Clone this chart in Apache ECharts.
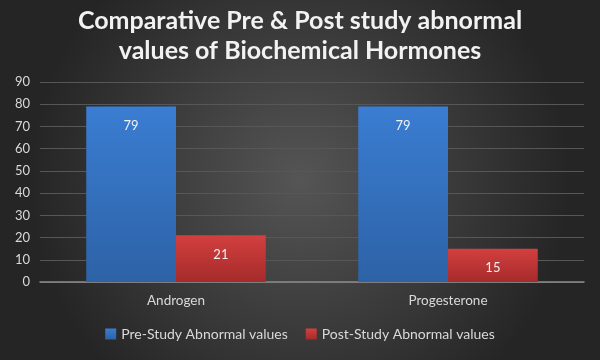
<!DOCTYPE html>
<html><head><meta charset="utf-8">
<script src="https://cdn.jsdelivr.net/npm/echarts@6/dist/echarts.min.js"></script>
<style>html,body{margin:0;padding:0;}#c{width:600px;height:360px;}</style>
</head><body><div id="c"></div>
<script>
const categories = ['Androgen', 'Progesterone'];
const preStudy = [79, 79];
const postStudy = [21, 15];
const seriesNames = ['Pre-Study Abnormal values', 'Post-Study Abnormal values'];
const titleText = 'Comparative Pre & Post study abnormal\nvalues of Biochemical Hormones';

const chart = echarts.init(document.getElementById('c'));
const font = 'Lato, "Open Sans", sans-serif';
chart.setOption({
  backgroundColor: new echarts.graphic.RadialGradient(0.5, 0.5, 0.75, [
    {offset: 0, color: '#555555'},
    {offset: 1, color: '#252525'}
  ]),
  title: {
    text: titleText, left: 'center', top: 1,
    textStyle: {color: '#f2f2f2', fontSize: 25, fontWeight: 'bold', fontFamily: font, lineHeight: 30}
  },
  legend: {
    bottom: 14, left: 'center', itemWidth: 11, itemHeight: 11, itemGap: 18,
    icon: 'rect',
    textStyle: {color: '#d9d9d9', fontSize: 14, fontFamily: font},
    data: seriesNames
  },
  grid: {left: 40, right: 16, top: 82, bottom: 78},
  xAxis: {
    type: 'category', data: categories,
    axisLine: {lineStyle: {color: '#8c8c8c', width: 1.5}},
    axisTick: {show: false},
    axisLabel: {color: '#d9d9d9', fontSize: 13.5, fontFamily: font, margin: 12}
  },
  yAxis: {
    type: 'value', min: 0, max: 90, interval: 10,
    axisLine: {show: false}, axisTick: {show: false},
    axisLabel: {color: '#d9d9d9', fontSize: 13, fontFamily: font, margin: 10},
    splitLine: {lineStyle: {color: '#575757', width: 1}}
  },
  series: [
    {
      name: seriesNames[0], type: 'bar', data: preStudy,
      barGap: '0%', barCategoryGap: '34%',
      itemStyle: {color: new echarts.graphic.LinearGradient(0, 0, 0, 1, [
        {offset: 0, color: '#3a7dd2'}, {offset: 1, color: '#2d62a6'}])},
      label: {show: true, position: 'insideTop', distance: 13, color: '#f0f0f0', fontSize: 13, fontFamily: font}
    },
    {
      name: seriesNames[1], type: 'bar', data: postStudy,
      itemStyle: {color: new echarts.graphic.LinearGradient(0, 0, 0, 1, [
        {offset: 0, color: '#d33f3f'}, {offset: 1, color: '#a52b2b'}])},
      label: {show: true, position: 'insideTop', distance: 13, color: '#f0f0f0', fontSize: 13, fontFamily: font}
    }
  ]
});
</script></body></html>
